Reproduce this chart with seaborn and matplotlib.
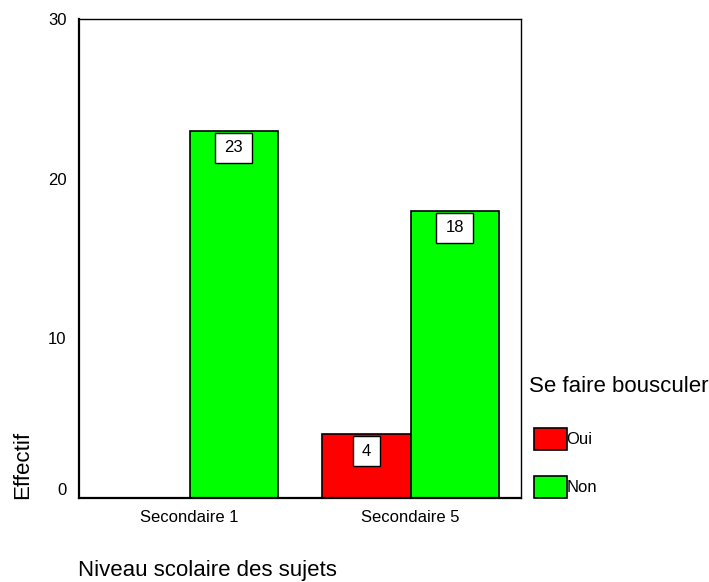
import matplotlib
matplotlib.use("Agg")
import matplotlib.pyplot as plt
import matplotlib.transforms as mtransforms
from matplotlib.path import Path
import seaborn as sns
import pandas as pd

niveaux = ["Secondaire 1", "Secondaire 1", "Secondaire 5", "Secondaire 5"]
reponses = ["Oui", "Non", "Oui", "Non"]
effectifs = [0, 23, 4, 18]
categories = ["Secondaire 1", "Secondaire 5"]
hue_order = ["Oui", "Non"]
couleurs = {"Oui": "#FF0000", "Non": "#00FF00"}
y_ticks = [0, 10, 20, 30]

df = pd.DataFrame({"Niveau": niveaux, "Reponse": reponses, "Effectif": effectifs})

sns.set_style("white")
plt.rcParams["font.family"] = ["Liberation Sans", "DejaVu Sans"]
plt.rcParams["text.color"] = "black"
plt.rcParams["axes.labelcolor"] = "black"
plt.rcParams["xtick.color"] = "black"
plt.rcParams["ytick.color"] = "black"


def label_box(x0, y0, width, height, mutation_size):
    px = 0.55 * mutation_size
    py = 0.45 * mutation_size
    x0, y0 = x0 - px, y0 - py
    x1, y1 = x0 + width + 2 * px, y0 + height + 2 * py
    return Path([(x0, y0), (x1, y0), (x1, y1), (x0, y1), (x0, y0)], closed=True)


fig = plt.figure(figsize=(7.09, 5.82), dpi=100)
ax = fig.add_axes([79/709, 1-498/582, 442/709, 479/582])

sns.barplot(data=df, x="Niveau", y="Effectif", hue="Reponse", order=categories,
            hue_order=hue_order, palette=couleurs, width=0.8, gap=0,
            edgecolor="black", linewidth=1.2, saturation=1, ax=ax, legend=False)

for cont in ax.containers:
    for bar in cont:
        h = bar.get_height()
        if h > 0:
            ax.annotate(f"{int(h)}", (bar.get_x() + bar.get_width()/2, h),
                        xytext=(0, -7), textcoords="offset points",
                        ha="center", va="top", fontsize=12, color="black",
                        bbox=dict(boxstyle=label_box, fc="white", ec="black", lw=1))

ax.set_xlim(-0.5, 1.5)
ax.set_ylim(0, 30)
ax.set_yticks(y_ticks)
ax.set_yticklabels([str(t) for t in y_ticks], fontsize=12)
ax.tick_params(axis="both", direction="out", length=5, width=1.2, colors="black", labelsize=12, pad=4)
ax.tick_params(axis="y", pad=4)
for s in ax.spines.values():
    s.set_visible(True)
    s.set_color("black")
ax.spines["left"].set_linewidth(1.6)
ax.spines["bottom"].set_linewidth(1.6)
ax.spines["top"].set_linewidth(1.0)
ax.spines["right"].set_linewidth(1.0)

# SPSS lifts the "0" label above the baseline
zero_lbl = ax.get_yticklabels()[0]
zero_lbl.set_transform(zero_lbl.get_transform() +
                       mtransforms.ScaledTranslation(0, 9/100, fig.dpi_scale_trans))

ax.set_ylabel("Effectif", fontsize=16, color="black")
ax.yaxis.set_label_coords(-0.104, 0.069)
ax.set_xlabel("Niveau scolaire des sujets", fontsize=16, ha="left", color="black")
ax.xaxis.set_label_coords(-0.002, -0.129)

fig.text(529/709, 1-386/582, "Se faire bousculer", fontsize=16, ha="left", va="center", color="black")
handles = [plt.Rectangle((0, 0), 1, 1, fc=couleurs[k], ec="black", lw=1.2) for k in hue_order]
leg = fig.legend(handles, hue_order, loc="upper left",
                 bbox_to_anchor=(534/709, 1-428/582), frameon=False, fontsize=12,
                 handlelength=1.95, handleheight=1.65,
                 handletextpad=0.0, labelspacing=1.55, borderpad=0, borderaxespad=0)

fig.savefig("out.png", dpi=100)
